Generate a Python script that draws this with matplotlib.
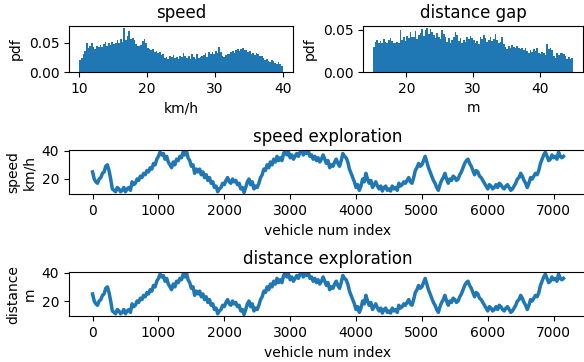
import numpy as np
import matplotlib
matplotlib.use("Agg")
import matplotlib.pyplot as plt

# ---- data ----
speed_lo, speed_hi = 10, 40
speed_pdf = [
    0.021, 0.024, 0.031, 0.036, 0.050, 0.041, 0.044, 0.049, 0.042, 0.040, 0.045, 0.043,
    0.047, 0.042, 0.048, 0.051, 0.044, 0.049, 0.046, 0.052, 0.048, 0.050, 0.055, 0.049,
    0.056, 0.052, 0.075, 0.054, 0.061, 0.070, 0.057, 0.059, 0.055, 0.048, 0.044, 0.045,
    0.047, 0.053, 0.057, 0.049, 0.041, 0.039, 0.038, 0.040, 0.035, 0.036, 0.033, 0.034,
    0.029, 0.031, 0.024, 0.026, 0.023, 0.027, 0.025, 0.029, 0.024, 0.026, 0.022, 0.027,
    0.025, 0.033, 0.028, 0.024, 0.027, 0.022, 0.030, 0.025, 0.023, 0.031, 0.024, 0.026,
    0.027, 0.029, 0.032, 0.026, 0.034, 0.030, 0.035, 0.031, 0.036, 0.033, 0.042, 0.034,
    0.028, 0.026, 0.029, 0.031, 0.030, 0.034, 0.036, 0.033, 0.038, 0.040, 0.036, 0.039,
    0.041, 0.037, 0.038, 0.034, 0.036, 0.031, 0.033, 0.029, 0.032, 0.030, 0.027, 0.028,
    0.024, 0.021, 0.022, 0.019, 0.017, 0.021, 0.018, 0.016, 0.014, 0.017, 0.013, 0.011,
]

gap_lo, gap_hi = 15, 45
gap_pdf = [
    0.030, 0.036, 0.038, 0.035, 0.037, 0.034, 0.039, 0.036, 0.035, 0.038, 0.040, 0.037,
    0.035, 0.034, 0.036, 0.035, 0.050, 0.038, 0.041, 0.037, 0.043, 0.040, 0.047, 0.042,
    0.041, 0.049, 0.039, 0.044, 0.046, 0.051, 0.043, 0.050, 0.052, 0.045, 0.051, 0.047,
    0.044, 0.040, 0.046, 0.042, 0.039, 0.050, 0.045, 0.041, 0.036, 0.040, 0.034, 0.038,
    0.042, 0.047, 0.044, 0.037, 0.040, 0.035, 0.038, 0.036, 0.041, 0.039, 0.043, 0.040,
    0.038, 0.035, 0.037, 0.033, 0.042, 0.039, 0.044, 0.040, 0.036, 0.038, 0.041, 0.037,
    0.039, 0.045, 0.038, 0.035, 0.036, 0.042, 0.033, 0.030, 0.027, 0.031, 0.029, 0.032,
    0.030, 0.028, 0.031, 0.029, 0.027, 0.029, 0.026, 0.028, 0.025, 0.023, 0.026, 0.024,
    0.027, 0.025, 0.029, 0.023, 0.021, 0.024, 0.022, 0.020, 0.033, 0.027, 0.029, 0.026,
    0.019, 0.017, 0.022, 0.020, 0.023, 0.022, 0.021, 0.019, 0.016, 0.018, 0.015, 0.017,
]

# value every 25 vehicles (20 per row = 500 vehicles)
step = 25
series = [
    25, 20, 18, 17, 20, 21, 24, 25, 29, 30, 26, 20, 13, 12, 11, 14, 13, 11, 12, 14,
    11, 13, 14, 12, 18, 16, 17, 20, 19, 22, 21, 24, 23, 26, 25, 28, 27, 31, 30, 34,
    36, 39, 37, 38, 34, 36, 32, 30, 28, 32, 30, 34, 33, 36, 35, 39, 37, 40, 35, 33,
    29, 30, 24, 27, 25, 27, 23, 25, 21, 23, 19, 21, 17, 18, 14, 15, 11, 13, 14, 17,
    16, 19, 21, 18, 17, 20, 18, 19, 16, 17, 13, 14, 10.5, 14, 18, 20, 16, 18, 13, 15,
    14, 17, 21, 23, 27, 26, 30, 28, 32, 30, 34, 32, 36, 33, 35, 33, 38, 40, 37, 39,
    35, 37, 34, 36, 38, 36, 39, 40, 37, 39, 38, 40, 36, 37, 34, 36, 33, 35, 32, 34,
    37, 34, 31, 33, 28, 30, 29, 32, 34, 31, 29, 33, 38, 36, 35, 32, 27, 24, 21, 18,
    14, 16, 12, 15, 20, 18, 24, 20, 17, 19, 14, 16, 18, 15, 13, 15, 11.5, 14, 15, 12,
    13, 11.5, 15, 13, 14, 12, 17, 15, 16, 18, 17, 19, 21, 18, 17, 21, 26, 28, 31, 29,
    30, 33, 36, 32, 28, 25, 22, 19, 17, 14, 12, 16, 19, 21, 24, 20, 17, 20, 19, 22,
    21, 19, 20, 23, 25, 28, 31, 33, 34, 31, 29, 26, 23, 26, 25, 22, 21, 19, 17, 15,
    13, 16, 15, 13, 14, 16, 14, 17, 16, 14, 13, 15, 16, 14, 12, 13, 15, 17, 20, 21,
    24, 22, 19, 17, 14, 17, 21, 20, 22, 24, 23, 26, 31, 34, 37, 39, 36, 33, 34, 37,
    35, 36, 34, 39, 36, 35, 36,
]


def draw_hist(ax, lo, hi, pdf, title, xlabel, xticks):
    edges = np.linspace(lo, hi, len(pdf) + 1)
    ax.bar(edges[:-1], pdf, width=np.diff(edges), align="edge",
           color="#1f77b4", linewidth=0)
    ax.set_title(title)
    ax.set_xlabel(xlabel)
    ax.set_ylabel("pdf")
    ax.set_xticks(xticks)
    ax.set_yticks([0.0, 0.05])
    ax.set_yticklabels(["0.00", "0.05"])


def draw_line(ax, title, ylabel):
    idx = np.arange(len(series)) * step
    ax.plot(idx, series, color="#1f77b4", lw=2.5)
    ax.set_title(title)
    ax.set_xlabel("vehicle num index")
    ax.set_ylabel(ylabel)
    ax.set_xticks(range(0, 8000, 1000))
    ax.set_yticks([20, 40])
    ax.set_ylim(9.2, 40.5)


fig = plt.figure(figsize=(5.84, 3.62), dpi=100)
ax1 = fig.add_axes([0.1182, 0.8011, 0.3836, 0.1271])
ax2 = fig.add_axes([0.6216, 0.8011, 0.3767, 0.1271])
ax3 = fig.add_axes([0.1182, 0.4633, 0.8870, 0.1224])
ax4 = fig.add_axes([0.1182, 0.1262, 0.8870, 0.1224])

draw_hist(ax1, speed_lo, speed_hi, speed_pdf, "speed", "km/h", [10, 20, 30, 40])
draw_hist(ax2, gap_lo, gap_hi, gap_pdf, "distance gap", "m", [20, 30, 40])
draw_line(ax3, "speed exploration", "speed\nkm/h")
draw_line(ax4, "distance exploration", "distance\nm")

fig.savefig("out.png", dpi=100)
plt.close(fig)
